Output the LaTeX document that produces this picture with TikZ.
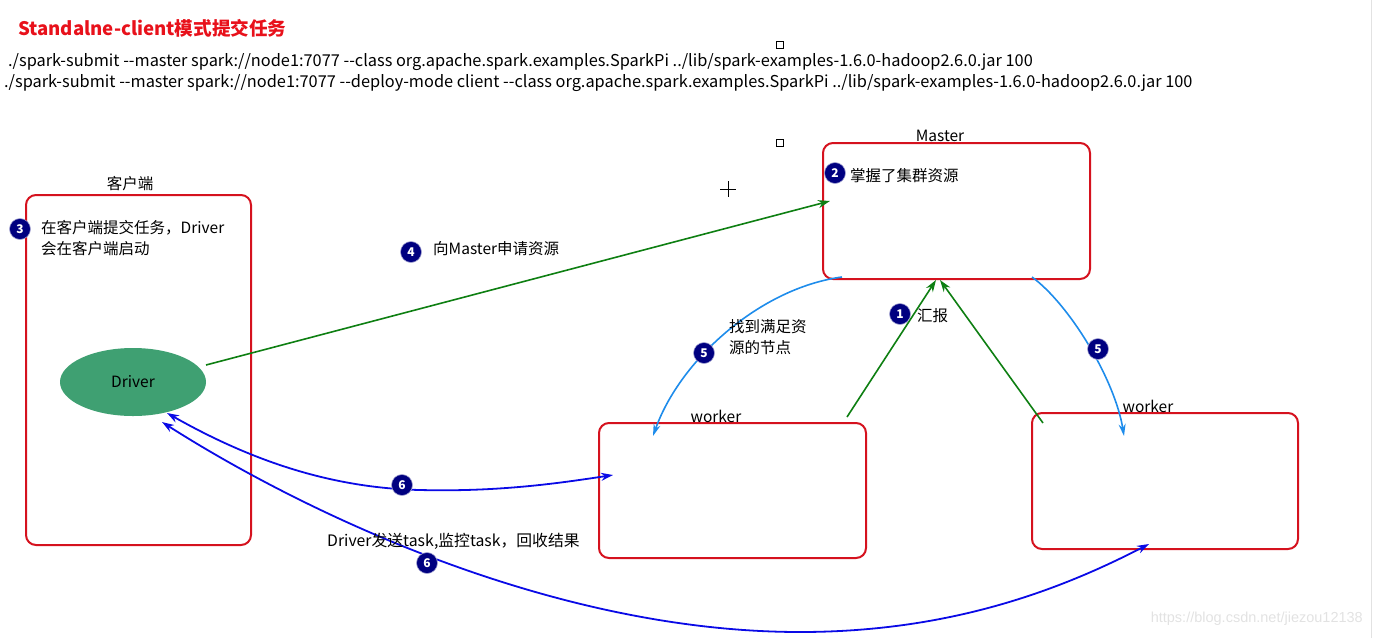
\documentclass[tikz,border=0pt]{standalone}
\usepackage{fontspec}
\setmainfont{Noto Sans CJK SC}
\newfontfamily\cmdfont[Ligatures=TeXOff]{Noto Sans CJK SC}
\newfontfamily\wmfont{Liberation Sans}
\usetikzlibrary{arrows.meta,shapes.geometric}

\definecolor{boxred}{HTML}{D5121E}
\definecolor{titlered}{HTML}{E8111B}
\definecolor{arrowgreen}{HTML}{0E7F12}
\definecolor{drivergreen}{HTML}{3FA072}
\definecolor{badgenavy}{HTML}{000080}
\definecolor{skyblue}{HTML}{1E8CEB}
\definecolor{deepblue}{HTML}{0A0AE6}
\definecolor{markgray}{HTML}{E2E2E2}

\tikzset{
  box/.style={draw=boxred, line width=2pt, rounded corners=10pt, inner sep=0pt},
  badge/.style={circle, fill=badgenavy, draw=badgenavy!35, line width=0.6pt,
    minimum size=21pt, inner sep=0pt, text=white,
    font=\fontsize{12}{12}\selectfont\bfseries},
  lbl/.style={font=\fontsize{15.5}{21}\selectfont, inner sep=0pt},
  cmd/.style={font=\cmdfont\fontsize{16.35}{18}\selectfont, inner sep=0pt, anchor=west},
  greenarrow/.style={draw=arrowgreen, line width=1.6pt,
    -{Stealth[length=12pt,width=8pt]}},
  skyarrow/.style={draw=skyblue, line width=1.6pt,
    -{Stealth[length=12pt,width=7pt]}},
  bluearrow/.style={draw=deepblue, line width=1.8pt,
    {Stealth[length=12pt,width=8pt]}-{Stealth[length=12pt,width=8pt]}},
  squaremark/.style={draw=black, line width=0.8pt, minimum size=7pt, inner sep=0pt},
}

\begin{document}
\begin{tikzpicture}[x=1pt,y=-1pt]
\useasboundingbox (0,0) rectangle (1373,638);
\draw[markgray, line width=0.8pt] (1371.5,0) -- (1371.5,638);

% heading and submit commands
\node[anchor=west, inner sep=0pt, text=titlered,
      font=\fontsize{18.6}{20}\selectfont\bfseries] (title) at (18,28)
      {Standalne-client模式提交任务};
\node[cmd] (cmd1) at (8,62)
  {./spark-submit --master spark://node1:7077 --class org.apache.spark.examples.SparkPi ../lib/spark-examples-1.6.0-hadoop2.6.0.jar 100};
\node[cmd] (cmd2) at (4,83)
  {./spark-submit --master spark://node1:7077 --deploy-mode client --class org.apache.spark.examples.SparkPi ../lib/spark-examples-1.6.0-hadoop2.6.0.jar 100};

% stray editing marks
\node[squaremark] (sq1) at (780,45) {};
\node[squaremark] (sq2) at (780,143) {};
\draw[line width=0.8pt] (720,189) -- (736,189) (728,181) -- (728,197);

% containers
\node[box, minimum width=225pt, minimum height=350pt] (client) at (138.5,370) {};
\node[lbl, anchor=south] at (130,191) {客户端};
\node[box, minimum width=267pt, minimum height=136pt] (master) at (956.5,211) {};
\node[lbl, anchor=south] at (940,142) {Master};
\node[box, minimum width=267pt, minimum height=135pt] (worker1) at (732.5,490.5) {};
\node[lbl, anchor=south] at (716,423) {worker};
\node[box, minimum width=266pt, minimum height=136pt] (worker2) at (1165,481) {};
\node[lbl, anchor=south] at (1148,413) {worker};

% driver
\node[ellipse, fill=drivergreen, minimum width=146pt, minimum height=68pt,
      inner sep=0pt, font=\fontsize{15.5}{18}\selectfont] (driver) at (133,382) {Driver};

% connector end points
\coordinate (drvout) at (206,365);
\coordinate (mstin) at (830,201);
\coordinate (rep1) at (936,280);
\coordinate (rep2) at (940,280);
\coordinate (w1top) at (847,417);
\coordinate (w2top) at (1043,423);
\coordinate (mstl) at (842,277);
\coordinate (mstr) at (1032,277);
\coordinate (w1in) at (653,436);
\coordinate (w2in) at (1124,436);
\coordinate (drva) at (167,413);
\coordinate (drvb) at (162,422);
\coordinate (w1left) at (613,475);
\coordinate (w2bot) at (1149,544);

% requests and reports
\draw[greenarrow] (drvout) -- (mstin);
\draw[greenarrow] (w1top) -- (rep1);
\draw[greenarrow] (w2top) -- (rep2);

% resource assignment
\draw[skyarrow] (mstl) .. controls (760,288) and (680,360) .. (w1in);
\draw[skyarrow] (mstr) .. controls (1070,305) and (1115,380) .. (w2in);

% task traffic
\draw[bluearrow] (drva) .. controls (250,460) and (330,488) .. (420,490)
                 .. controls (500,492) and (560,483) .. (w1left);
\draw[bluearrow] (drvb) .. controls (300,510) and (550,632) .. (800,632)
                 .. controls (950,632) and (1060,590) .. (w2bot);

% step badges and captions
\node[badge] (b3) at (20,229) {3};
\node[lbl, anchor=west, align=left] (t3) at (41,238.5) {在客户端提交任务，Driver\\会在客户端启动};
\node[badge] (b2) at (835,173) {2};
\node[lbl, anchor=west] (t2) at (850,176) {掌握了集群资源};
\node[badge] (b4) at (411,252) {4};
\node[lbl, anchor=west] (t4) at (433,249) {向Master申请资源};
\node[badge] (b1) at (900,314) {1};
\node[lbl, anchor=west] (t1) at (917,316) {汇报};
\node[badge] (b5a) at (704,353) {5};
\node[lbl, anchor=west, align=left] (t5) at (729,337) {找到满足资\\源的节点};
\node[badge] (b5b) at (1098,349) {5};
\node[badge] (b6a) at (402,485) {6};
\node[badge] (b6b) at (427,563) {6};
\node[lbl, anchor=west, font=\fontsize{15.8}{21}\selectfont] (t6) at (327,541) {Driver发送task,监控task，回收结果};

% watermark
\node[anchor=east, inner sep=0pt, text=markgray,
      font=\wmfont\fontsize{14.5}{16}\selectfont] (wm) at (1363,619)
      {https://blog.csdn.net/jiezou12138};
\end{tikzpicture}
\end{document}
